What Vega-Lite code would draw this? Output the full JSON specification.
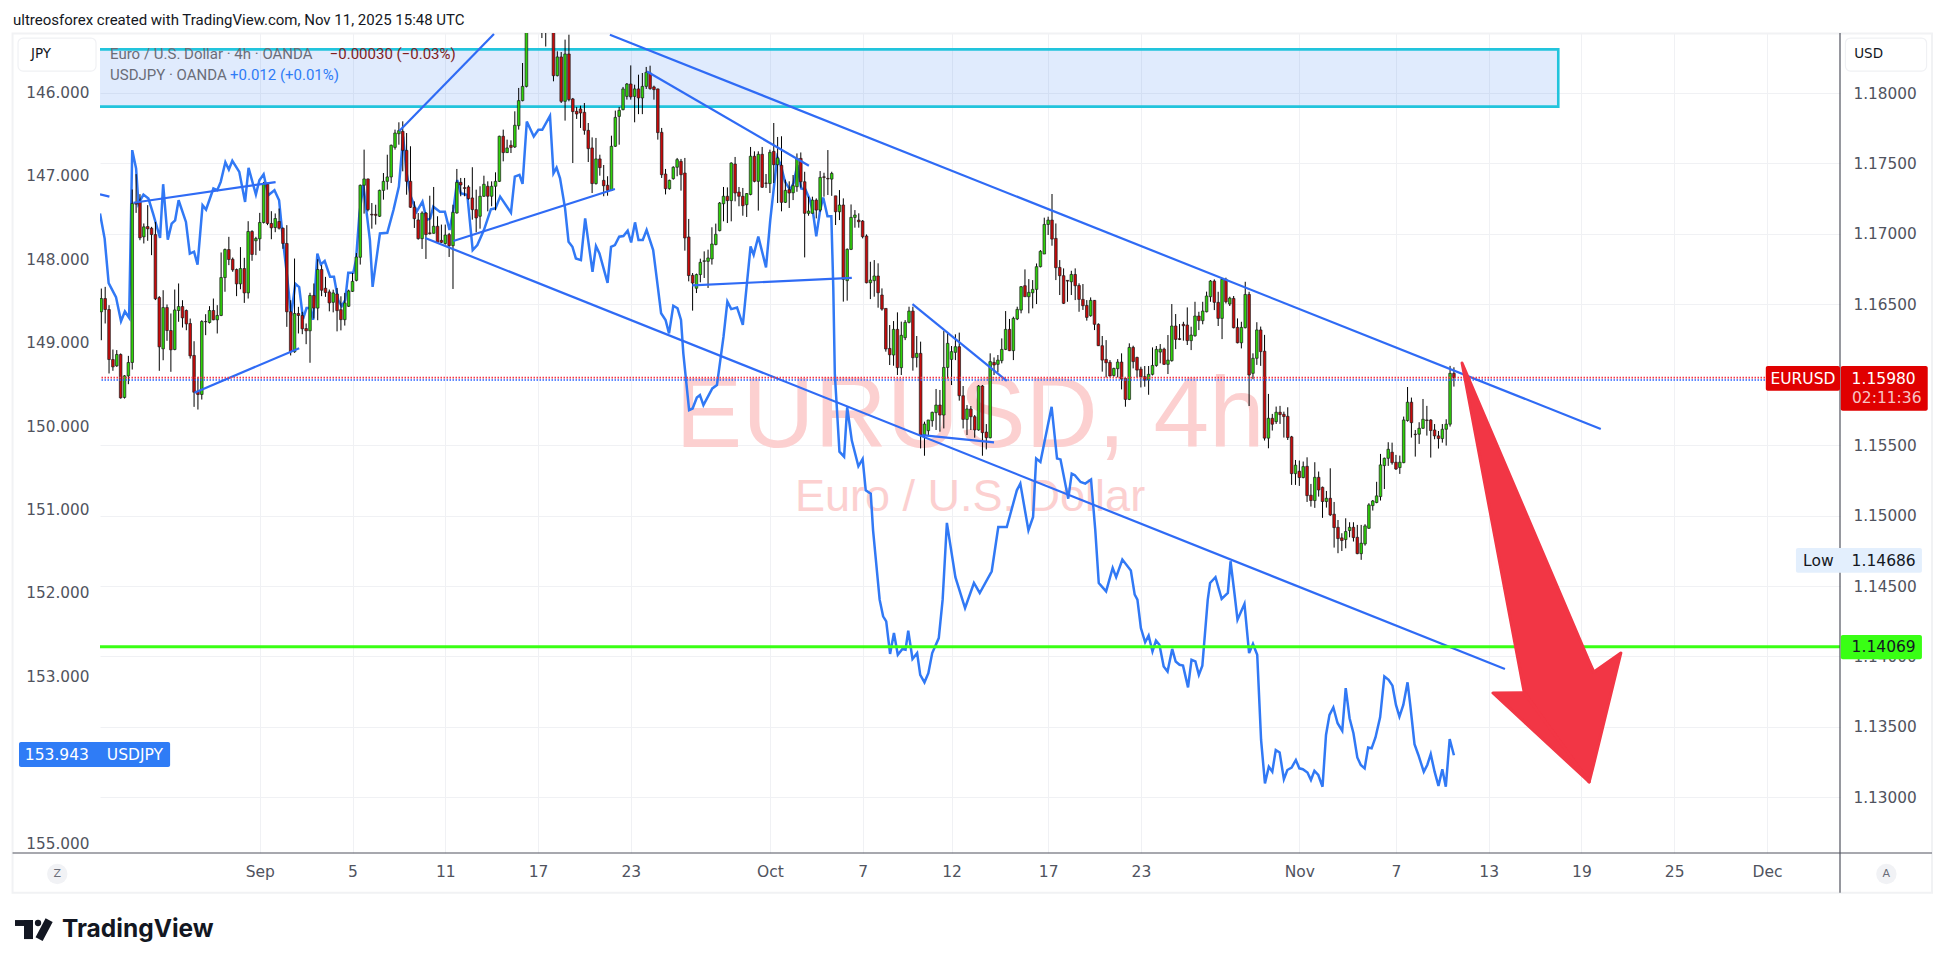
{
"$schema":"https://vega.github.io/schema/vega-lite/v6.json",
"width":1740,"height":820,"autosize":"none",
"padding":{"left":100,"top":33,"right":105,"bottom":115},
"background":"white",
"config":{"view":{"stroke":null},"axis":{"grid":false}},
"datasets":{
"candles":[
{"i":0,"o":1.16447,"h":1.16612,"l":1.16245,"c":1.16541},{"i":1,"o":1.16541,"h":1.16624,"l":1.16364,"c":1.16463},{"i":2,"o":1.16463,"h":1.16494,"l":1.16009,"c":1.16108},{"i":3,"o":1.16108,"h":1.16179,"l":1.16028,"c":1.16056},{"i":4,"o":1.16063,"h":1.16175,"l":1.16056,"c":1.16144},{"i":5,"o":1.16144,"h":1.16151,"l":1.15831,"c":1.15836},{"i":6,"o":1.15839,"h":1.15997,"l":1.15831,"c":1.15992},{"i":7,"o":1.15992,"h":1.16134,"l":1.15933,"c":1.16087},{"i":8,"o":1.16087,"h":1.17315,"l":1.16037,"c":1.17216},{"i":9,"o":1.1722,"h":1.17424,"l":1.17149,"c":1.17211},
{"i":10,"o":1.17227,"h":1.17282,"l":1.16955,"c":1.16972},{"i":11,"o":1.16979,"h":1.17074,"l":1.16932,"c":1.1705},{"i":12,"o":1.17052,"h":1.17204,"l":1.16951,"c":1.17036},{"i":13,"o":1.1704,"h":1.1705,"l":1.16849,"c":1.16995},{"i":14,"o":1.16995,"h":1.17085,"l":1.1653,"c":1.16539},{"i":15,"o":1.16548,"h":1.16558,"l":1.16028,"c":1.16198},{"i":16,"o":1.16184,"h":1.166,"l":1.16103,"c":1.16477},{"i":17,"o":1.16477,"h":1.16499,"l":1.16241,"c":1.16314},{"i":18,"o":1.16314,"h":1.16435,"l":1.16021,"c":1.16177},{"i":19,"o":1.16179,"h":1.16605,"l":1.16174,"c":1.1646},
{"i":20,"o":1.16456,"h":1.16648,"l":1.16376,"c":1.16484},{"i":21,"o":1.16484,"h":1.16529,"l":1.16335,"c":1.16404},{"i":22,"o":1.16456,"h":1.16463,"l":1.16316,"c":1.16361},{"i":23,"o":1.16364,"h":1.16399,"l":1.16115,"c":1.16134},{"i":24,"o":1.16137,"h":1.16238,"l":1.15772,"c":1.15876},{"i":25,"o":1.15883,"h":1.15985,"l":1.15753,"c":1.1586},{"i":26,"o":1.1586,"h":1.16387,"l":1.15824,"c":1.16378},{"i":27,"o":1.16378,"h":1.1643,"l":1.16281,"c":1.16376},{"i":28,"o":1.16371,"h":1.16487,"l":1.16364,"c":1.16456},{"i":29,"o":1.16456,"h":1.16541,"l":1.16387,"c":1.1639},
{"i":30,"o":1.1639,"h":1.16494,"l":1.16293,"c":1.16421},{"i":31,"o":1.16421,"h":1.16868,"l":1.16416,"c":1.1669},{"i":32,"o":1.1669,"h":1.16896,"l":1.16589,"c":1.16889},{"i":33,"o":1.16889,"h":1.16979,"l":1.16778,"c":1.16818},{"i":34,"o":1.1682,"h":1.16832,"l":1.16731,"c":1.16745},{"i":35,"o":1.16747,"h":1.16754,"l":1.16558,"c":1.16645},{"i":36,"o":1.16645,"h":1.16906,"l":1.16607,"c":1.16754},{"i":37,"o":1.16754,"h":1.1683,"l":1.1651,"c":1.16581},{"i":38,"o":1.16581,"h":1.1709,"l":1.16541,"c":1.17017},{"i":39,"o":1.17017,"h":1.17026,"l":1.16809,"c":1.16854},
{"i":40,"o":1.16951,"h":1.16979,"l":1.16849,"c":1.16967},{"i":41,"o":1.16965,"h":1.17149,"l":1.1688,"c":1.17081},{"i":42,"o":1.17081,"h":1.17369,"l":1.17074,"c":1.17353},{"i":43,"o":1.17353,"h":1.17362,"l":1.17062,"c":1.17074},{"i":44,"o":1.17074,"h":1.17161,"l":1.16962,"c":1.17043},{"i":45,"o":1.17045,"h":1.17145,"l":1.17012,"c":1.17109},{"i":46,"o":1.17088,"h":1.1718,"l":1.17031,"c":1.1704},{"i":47,"o":1.1704,"h":1.17045,"l":1.16894,"c":1.16932},{"i":48,"o":1.16932,"h":1.17062,"l":1.1634,"c":1.16447},{"i":49,"o":1.16447,"h":1.16529,"l":1.16137,"c":1.16163},
{"i":50,"o":1.16163,"h":1.16825,"l":1.16156,"c":1.16435},{"i":51,"o":1.16435,"h":1.16482,"l":1.16293,"c":1.16421},{"i":52,"o":1.16421,"h":1.16447,"l":1.16288,"c":1.16326},{"i":53,"o":1.16328,"h":1.16364,"l":1.16217,"c":1.16312},{"i":54,"o":1.16312,"h":1.16582,"l":1.16085,"c":1.16563},{"i":55,"o":1.16563,"h":1.16648,"l":1.16399,"c":1.16473},{"i":56,"o":1.16473,"h":1.1682,"l":1.16387,"c":1.16747},{"i":57,"o":1.16747,"h":1.16778,"l":1.16558,"c":1.166},{"i":58,"o":1.16614,"h":1.16695,"l":1.16553,"c":1.16584},{"i":59,"o":1.16588,"h":1.16605,"l":1.1645,"c":1.1651},
{"i":60,"o":1.16514,"h":1.16604,"l":1.16443,"c":1.16581},{"i":61,"o":1.16573,"h":1.16616,"l":1.16308,"c":1.16455},{"i":62,"o":1.16462,"h":1.16557,"l":1.16315,"c":1.16391},{"i":63,"o":1.16391,"h":1.16581,"l":1.16349,"c":1.1651},{"i":64,"o":1.16486,"h":1.16604,"l":1.16481,"c":1.16595},{"i":65,"o":1.16592,"h":1.16722,"l":1.16588,"c":1.16663},{"i":66,"o":1.1667,"h":1.16864,"l":1.16663,"c":1.16836},{"i":67,"o":1.16834,"h":1.1735,"l":1.16782,"c":1.17345},{"i":68,"o":1.17345,"h":1.17598,"l":1.17144,"c":1.1739},{"i":69,"o":1.1739,"h":1.17392,"l":1.1716,"c":1.17172},
{"i":70,"o":1.17139,"h":1.17219,"l":1.17037,"c":1.17134},{"i":71,"o":1.17139,"h":1.17207,"l":1.17066,"c":1.17132},{"i":72,"o":1.17125,"h":1.17314,"l":1.1712,"c":1.17309},{"i":73,"o":1.17309,"h":1.17432,"l":1.17243,"c":1.17373},{"i":74,"o":1.17373,"h":1.17562,"l":1.17314,"c":1.17404},{"i":75,"o":1.17404,"h":1.17634,"l":1.17361,"c":1.17629},{"i":76,"o":1.17614,"h":1.1774,"l":1.17598,"c":1.17716},{"i":77,"o":1.17711,"h":1.17792,"l":1.17633,"c":1.17733},{"i":78,"o":1.17728,"h":1.17799,"l":1.17444,"c":1.17593},{"i":79,"o":1.17593,"h":1.17716,"l":1.17278,"c":1.17373},
{"i":80,"o":1.17373,"h":1.17622,"l":1.17184,"c":1.17189},{"i":81,"o":1.17189,"h":1.17231,"l":1.17042,"c":1.17108},{"i":82,"o":1.17099,"h":1.17148,"l":1.16959,"c":1.16966},{"i":83,"o":1.16966,"h":1.1716,"l":1.16893,"c":1.17148},{"i":84,"o":1.17148,"h":1.17155,"l":1.16822,"c":1.16995},{"i":85,"o":1.17007,"h":1.17271,"l":1.16995,"c":1.17002},{"i":86,"o":1.17004,"h":1.17333,"l":1.17002,"c":1.17054},{"i":87,"o":1.17054,"h":1.17125,"l":1.16935,"c":1.1694},{"i":88,"o":1.16954,"h":1.17066,"l":1.16935,"c":1.1694},{"i":89,"o":1.16931,"h":1.17066,"l":1.16924,"c":1.16992},
{"i":90,"o":1.16995,"h":1.17007,"l":1.16836,"c":1.16916},{"i":91,"o":1.16916,"h":1.17207,"l":1.16609,"c":1.17153},{"i":92,"o":1.17148,"h":1.17461,"l":1.17144,"c":1.17366},{"i":93,"o":1.17366,"h":1.17397,"l":1.17267,"c":1.17347},{"i":94,"o":1.17328,"h":1.17397,"l":1.17267,"c":1.17323},{"i":95,"o":1.17333,"h":1.17345,"l":1.17243,"c":1.1725},{"i":96,"o":1.17255,"h":1.17473,"l":1.17101,"c":1.17172},{"i":97,"o":1.17172,"h":1.17314,"l":1.17011,"c":1.17113},{"i":98,"o":1.17125,"h":1.17338,"l":1.17037,"c":1.17267},{"i":99,"o":1.17267,"h":1.17413,"l":1.17262,"c":1.17352},
{"i":100,"o":1.17338,"h":1.17373,"l":1.1716,"c":1.17267},{"i":101,"o":1.17267,"h":1.17373,"l":1.17196,"c":1.17338},{"i":102,"o":1.17338,"h":1.17437,"l":1.17167,"c":1.17373},{"i":103,"o":1.17373,"h":1.17697,"l":1.17368,"c":1.17693},{"i":104,"o":1.17693,"h":1.1774,"l":1.17515,"c":1.17577},{"i":105,"o":1.17577,"h":1.17669,"l":1.17574,"c":1.1761},{"i":106,"o":1.17629,"h":1.17664,"l":1.17574,"c":1.17614},{"i":107,"o":1.17617,"h":1.1787,"l":1.1761,"c":1.17771},{"i":108,"o":1.17768,"h":1.18036,"l":1.1774,"c":1.17946},{"i":109,"o":1.17946,"h":1.18213,"l":1.17941,"c":1.18047},
{"i":110,"o":1.18047,"h":1.187,"l":1.1804,"c":1.186},{"i":111,"o":1.186,"h":1.188,"l":1.1852,"c":1.1875},{"i":112,"o":1.1875,"h":1.1895,"l":1.1862,"c":1.1882},{"i":113,"o":1.1882,"h":1.189,"l":1.1855,"c":1.1868},{"i":114,"o":1.1868,"h":1.188,"l":1.1839,"c":1.186},{"i":115,"o":1.186,"h":1.1875,"l":1.1833,"c":1.1852},{"i":116,"o":1.1852,"h":1.1872,"l":1.1846,"c":1.1862},{"i":117,"o":1.1862,"h":1.187,"l":1.18083,"c":1.18123},{"i":118,"o":1.18123,"h":1.18296,"l":1.18118,"c":1.18256},{"i":119,"o":1.18256,"h":1.18291,"l":1.17929,"c":1.17941},
{"i":120,"o":1.17941,"h":1.18379,"l":1.17804,"c":1.18277},{"i":121,"o":1.18277,"h":1.18414,"l":1.17941,"c":1.17953},{"i":122,"o":1.17958,"h":1.17965,"l":1.17503,"c":1.17868},{"i":123,"o":1.1787,"h":1.17901,"l":1.17816,"c":1.17851},{"i":124,"o":1.17887,"h":1.1791,"l":1.17752,"c":1.17858},{"i":125,"o":1.17863,"h":1.17929,"l":1.17704,"c":1.17735},{"i":126,"o":1.17735,"h":1.17787,"l":1.1751,"c":1.17605},{"i":127,"o":1.1761,"h":1.17685,"l":1.1729,"c":1.17357},{"i":128,"o":1.17357,"h":1.17681,"l":1.1735,"c":1.17532},{"i":129,"o":1.17532,"h":1.17562,"l":1.17413,"c":1.1747},
{"i":130,"o":1.1738,"h":1.17489,"l":1.17267,"c":1.17342},{"i":131,"o":1.17345,"h":1.17409,"l":1.17271,"c":1.17309},{"i":132,"o":1.17309,"h":1.17697,"l":1.17304,"c":1.17622},{"i":133,"o":1.17622,"h":1.17875,"l":1.17617,"c":1.17827},{"i":134,"o":1.17834,"h":1.17901,"l":1.17633,"c":1.17877},{"i":135,"o":1.17882,"h":1.18043,"l":1.17877,"c":1.18029},{"i":136,"o":1.17976,"h":1.18071,"l":1.17953,"c":1.18064},{"i":137,"o":1.18064,"h":1.18196,"l":1.17953,"c":1.17972},{"i":138,"o":1.17976,"h":1.18059,"l":1.17792,"c":1.18029},{"i":139,"o":1.18029,"h":1.1813,"l":1.1785,"c":1.17965},
{"i":140,"o":1.17965,"h":1.18142,"l":1.1785,"c":1.18047},{"i":141,"o":1.18047,"h":1.18185,"l":1.18029,"c":1.18147},{"i":142,"o":1.18142,"h":1.18194,"l":1.18024,"c":1.18031},{"i":143,"o":1.18043,"h":1.18052,"l":1.17953,"c":1.18024},{"i":144,"o":1.18029,"h":1.18031,"l":1.17669,"c":1.17719},{"i":145,"o":1.17721,"h":1.17752,"l":1.17397,"c":1.1742},{"i":146,"o":1.17425,"h":1.17461,"l":1.1728,"c":1.17321},{"i":147,"o":1.17321,"h":1.17385,"l":1.17314,"c":1.1738},{"i":148,"o":1.17392,"h":1.1748,"l":1.17385,"c":1.17473},{"i":149,"o":1.17473,"h":1.17539,"l":1.17409,"c":1.17527},
{"i":150,"o":1.17515,"h":1.17532,"l":1.17307,"c":1.1742},{"i":151,"o":1.17432,"h":1.17539,"l":1.16881,"c":1.16971},{"i":152,"o":1.16978,"h":1.17106,"l":1.16663,"c":1.16704},{"i":153,"o":1.16706,"h":1.16722,"l":1.16455,"c":1.16651},{"i":154,"o":1.16614,"h":1.16718,"l":1.1658,"c":1.16711},{"i":155,"o":1.16711,"h":1.16824,"l":1.16656,"c":1.16798},{"i":156,"o":1.16805,"h":1.16876,"l":1.16687,"c":1.16809},{"i":157,"o":1.16805,"h":1.16888,"l":1.16616,"c":1.16829},{"i":158,"o":1.16822,"h":1.17047,"l":1.16782,"c":1.16928},{"i":159,"o":1.16924,"h":1.17073,"l":1.16919,"c":1.16997},
{"i":160,"o":1.17023,"h":1.17226,"l":1.17018,"c":1.17219},{"i":161,"o":1.17214,"h":1.17333,"l":1.17089,"c":1.17267},{"i":162,"o":1.17267,"h":1.1733,"l":1.17077,"c":1.17236},{"i":163,"o":1.17236,"h":1.17508,"l":1.17089,"c":1.17503},{"i":164,"o":1.17496,"h":1.17546,"l":1.17231,"c":1.1729},{"i":165,"o":1.17297,"h":1.17333,"l":1.17196,"c":1.17267},{"i":166,"o":1.17267,"h":1.17326,"l":1.17129,"c":1.172},{"i":167,"o":1.17207,"h":1.1729,"l":1.1712,"c":1.17286},{"i":168,"o":1.1728,"h":1.17617,"l":1.17274,"c":1.17551},{"i":169,"o":1.17551,"h":1.17586,"l":1.17366,"c":1.17373},
{"i":170,"o":1.17373,"h":1.17586,"l":1.17165,"c":1.17565},{"i":171,"o":1.17565,"h":1.17617,"l":1.17326,"c":1.17331},{"i":172,"o":1.17361,"h":1.17425,"l":1.17326,"c":1.17359},{"i":173,"o":1.17357,"h":1.17598,"l":1.1729,"c":1.17579},{"i":174,"o":1.17586,"h":1.17787,"l":1.17361,"c":1.17491},{"i":175,"o":1.17491,"h":1.17688,"l":1.17219,"c":1.17539},{"i":176,"o":1.17487,"h":1.17693,"l":1.1716,"c":1.17224},{"i":177,"o":1.17224,"h":1.17385,"l":1.17219,"c":1.17309},{"i":178,"o":1.17314,"h":1.17373,"l":1.17184,"c":1.1729},{"i":179,"o":1.17292,"h":1.17418,"l":1.1724,"c":1.17342},
{"i":180,"o":1.17335,"h":1.17571,"l":1.17299,"c":1.17536},{"i":181,"o":1.17536,"h":1.17578,"l":1.17328,"c":1.1737},{"i":182,"o":1.1737,"h":1.17441,"l":1.16833,"c":1.17146},{"i":183,"o":1.17146,"h":1.17264,"l":1.17129,"c":1.17162},{"i":184,"o":1.17146,"h":1.17264,"l":1.17146,"c":1.1724},{"i":185,"o":1.1724,"h":1.17252,"l":1.1711,"c":1.17169},{"i":186,"o":1.17169,"h":1.17446,"l":1.17157,"c":1.17401},{"i":187,"o":1.17405,"h":1.17434,"l":1.17264,"c":1.17401},{"i":188,"o":1.17394,"h":1.17595,"l":1.17276,"c":1.1739},{"i":189,"o":1.17389,"h":1.17441,"l":1.1727,"c":1.17429},
{"i":190,"o":1.1727,"h":1.1727,"l":1.17063,"c":1.17157},{"i":191,"o":1.17157,"h":1.17311,"l":1.17098,"c":1.17205},{"i":192,"o":1.17205,"h":1.17252,"l":1.16519,"c":1.16677},{"i":193,"o":1.16668,"h":1.16897,"l":1.16526,"c":1.1689},{"i":194,"o":1.1689,"h":1.17209,"l":1.16885,"c":1.17117},{"i":195,"o":1.17117,"h":1.17169,"l":1.17044,"c":1.17134},{"i":196,"o":1.17098,"h":1.17146,"l":1.17044,"c":1.17086},{"i":197,"o":1.17091,"h":1.17098,"l":1.16968,"c":1.1698},{"i":198,"o":1.16985,"h":1.16996,"l":1.16649,"c":1.16653},{"i":199,"o":1.16653,"h":1.16802,"l":1.16537,"c":1.16672},
{"i":200,"o":1.16668,"h":1.16814,"l":1.16554,"c":1.16701},{"i":201,"o":1.16701,"h":1.16791,"l":1.16476,"c":1.16582},{"i":202,"o":1.16566,"h":1.16613,"l":1.16455,"c":1.16466},{"i":203,"o":1.16471,"h":1.16471,"l":1.16164,"c":1.16183},{"i":204,"o":1.16187,"h":1.16353,"l":1.16069,"c":1.16142},{"i":205,"o":1.1614,"h":1.16381,"l":1.16064,"c":1.16322},{"i":206,"o":1.16322,"h":1.16443,"l":1.15998,"c":1.1605},{"i":207,"o":1.1605,"h":1.16377,"l":1.15998,"c":1.1628},{"i":208,"o":1.16263,"h":1.16388,"l":1.16246,"c":1.16372},{"i":209,"o":1.16372,"h":1.16483,"l":1.16365,"c":1.16452},
{"i":210,"o":1.16452,"h":1.16483,"l":1.16029,"c":1.16121},{"i":211,"o":1.16123,"h":1.16275,"l":1.16052,"c":1.16152},{"i":212,"o":1.16152,"h":1.16235,"l":1.15477,"c":1.15572},{"i":213,"o":1.15572,"h":1.15667,"l":1.15425,"c":1.1565},{"i":214,"o":1.15603,"h":1.15679,"l":1.15572,"c":1.15679},{"i":215,"o":1.15674,"h":1.15738,"l":1.15631,"c":1.15733},{"i":216,"o":1.15731,"h":1.15899,"l":1.15608,"c":1.15785},{"i":217,"o":1.15785,"h":1.15892,"l":1.15596,"c":1.15714},{"i":218,"o":1.15714,"h":1.1631,"l":1.15619,"c":1.16052},{"i":219,"o":1.16052,"h":1.16294,"l":1.15974,"c":1.16223},
{"i":220,"o":1.16109,"h":1.16204,"l":1.15927,"c":1.16164},{"i":221,"o":1.16159,"h":1.16287,"l":1.16104,"c":1.16199},{"i":222,"o":1.16199,"h":1.16299,"l":1.15816,"c":1.15851},{"i":223,"o":1.15851,"h":1.1592,"l":1.15619,"c":1.15683},{"i":224,"o":1.15683,"h":1.15785,"l":1.15572,"c":1.15757},{"i":225,"o":1.15757,"h":1.15778,"l":1.15608,"c":1.15702},{"i":226,"o":1.15702,"h":1.15714,"l":1.15553,"c":1.15608},{"i":227,"o":1.15608,"h":1.15927,"l":1.15603,"c":1.1592},{"i":228,"o":1.1592,"h":1.15927,"l":1.15425,"c":1.15589},{"i":229,"o":1.15593,"h":1.1565,"l":1.1547,"c":1.15553},
{"i":230,"o":1.15553,"h":1.16152,"l":1.15548,"c":1.16093},{"i":231,"o":1.16088,"h":1.16123,"l":1.15998,"c":1.16069},{"i":232,"o":1.16074,"h":1.1614,"l":1.16017,"c":1.16104},{"i":233,"o":1.161,"h":1.16258,"l":1.16081,"c":1.1618},{"i":234,"o":1.1618,"h":1.16452,"l":1.16175,"c":1.16322},{"i":235,"o":1.16322,"h":1.16396,"l":1.16168,"c":1.16171},{"i":236,"o":1.16171,"h":1.16412,"l":1.16104,"c":1.164},{"i":237,"o":1.16396,"h":1.16483,"l":1.16388,"c":1.16464},{"i":238,"o":1.16459,"h":1.1663,"l":1.16436,"c":1.16625},{"i":239,"o":1.16632,"h":1.16748,"l":1.16554,"c":1.16554},
{"i":240,"o":1.16554,"h":1.16679,"l":1.16436,"c":1.16585},{"i":241,"o":1.16582,"h":1.16672,"l":1.16471,"c":1.16606},{"i":242,"o":1.16606,"h":1.1679,"l":1.16502,"c":1.16767},{"i":243,"o":1.16767,"h":1.16885,"l":1.16762,"c":1.16876},{"i":244,"o":1.16857,"h":1.17115,"l":1.16857,"c":1.17067},{"i":245,"o":1.17067,"h":1.17122,"l":1.16992,"c":1.17098},{"i":246,"o":1.17098,"h":1.17283,"l":1.16916,"c":1.16963},{"i":247,"o":1.16968,"h":1.17074,"l":1.16672,"c":1.1676},{"i":248,"o":1.16762,"h":1.16814,"l":1.16566,"c":1.16703},{"i":249,"o":1.16703,"h":1.16755,"l":1.16502,"c":1.16507},
{"i":250,"o":1.1667,"h":1.16672,"l":1.16518,"c":1.16665},{"i":251,"o":1.1666,"h":1.16738,"l":1.16566,"c":1.16712},{"i":252,"o":1.16712,"h":1.16755,"l":1.1653,"c":1.16632},{"i":253,"o":1.16634,"h":1.16649,"l":1.16447,"c":1.16535},{"i":254,"o":1.16535,"h":1.16644,"l":1.1646,"c":1.1649},{"i":255,"o":1.16492,"h":1.1653,"l":1.16384,"c":1.16407},{"i":256,"o":1.16419,"h":1.16549,"l":1.16412,"c":1.16528},{"i":257,"o":1.16528,"h":1.1653,"l":1.16317,"c":1.16358},{"i":258,"o":1.16358,"h":1.16365,"l":1.16204,"c":1.16206},{"i":259,"o":1.16206,"h":1.16275,"l":1.16022,"c":1.16104},
{"i":260,"o":1.16109,"h":1.16246,"l":1.15981,"c":1.16085},{"i":261,"o":1.16088,"h":1.16104,"l":1.15986,"c":1.15991},{"i":262,"o":1.15995,"h":1.1605,"l":1.15986,"c":1.16045},{"i":263,"o":1.16043,"h":1.16111,"l":1.15981,"c":1.1609},{"i":264,"o":1.1609,"h":1.16152,"l":1.15896,"c":1.15969},{"i":265,"o":1.15974,"h":1.15979,"l":1.15773,"c":1.15825},{"i":266,"o":1.15825,"h":1.16223,"l":1.1582,"c":1.16194},{"i":267,"o":1.16194,"h":1.16206,"l":1.16045,"c":1.16093},{"i":268,"o":1.16123,"h":1.16128,"l":1.15981,"c":1.16033},{"i":269,"o":1.1604,"h":1.16057,"l":1.1591,"c":1.15986},
{"i":270,"o":1.15986,"h":1.16062,"l":1.15915,"c":1.15962},{"i":271,"o":1.15962,"h":1.16062,"l":1.15858,"c":1.16003},{"i":272,"o":1.16003,"h":1.16194,"l":1.15995,"c":1.16066},{"i":273,"o":1.16066,"h":1.16204,"l":1.16057,"c":1.1618},{"i":274,"o":1.16161,"h":1.16218,"l":1.16081,"c":1.16182},{"i":275,"o":1.16182,"h":1.16192,"l":1.16069,"c":1.16074},{"i":276,"o":1.16074,"h":1.16282,"l":1.16005,"c":1.16104},{"i":277,"o":1.161,"h":1.16502,"l":1.16093,"c":1.16346},{"i":278,"o":1.16346,"h":1.16431,"l":1.16182,"c":1.16251},{"i":279,"o":1.16256,"h":1.1636,"l":1.16246,"c":1.16251},
{"i":280,"o":1.16358,"h":1.16376,"l":1.16242,"c":1.16348},{"i":281,"o":1.16353,"h":1.16478,"l":1.16211,"c":1.16242},{"i":282,"o":1.16242,"h":1.16341,"l":1.16175,"c":1.16282},{"i":283,"o":1.16277,"h":1.16518,"l":1.1627,"c":1.16417},{"i":284,"o":1.16417,"h":1.16447,"l":1.16317,"c":1.16384},{"i":285,"o":1.16384,"h":1.16518,"l":1.16358,"c":1.16452},{"i":286,"o":1.16447,"h":1.1659,"l":1.16443,"c":1.16559},{"i":287,"o":1.16554,"h":1.16672,"l":1.16518,"c":1.16665},{"i":288,"o":1.16665,"h":1.16677,"l":1.16459,"c":1.16514},{"i":289,"o":1.16514,"h":1.16589,"l":1.16346,"c":1.164},
{"i":290,"o":1.164,"h":1.16684,"l":1.16253,"c":1.16677},{"i":291,"o":1.16677,"h":1.16689,"l":1.16506,"c":1.16518},{"i":292,"o":1.16502,"h":1.16554,"l":1.16488,"c":1.16544},{"i":293,"o":1.16542,"h":1.16559,"l":1.16329,"c":1.16334},{"i":294,"o":1.16336,"h":1.164,"l":1.16223,"c":1.16227},{"i":295,"o":1.16227,"h":1.16376,"l":1.16187,"c":1.16336},{"i":296,"o":1.16334,"h":1.1666,"l":1.16329,"c":1.1657},{"i":297,"o":1.1657,"h":1.16589,"l":1.15778,"c":1.15998},{"i":298,"o":1.1601,"h":1.16152,"l":1.15968,"c":1.16117},{"i":299,"o":1.16117,"h":1.16373,"l":1.1607,"c":1.16318},
{"i":300,"o":1.16318,"h":1.16342,"l":1.16063,"c":1.16164},{"i":301,"o":1.16167,"h":1.16283,"l":1.15533,"c":1.1555},{"i":302,"o":1.1555,"h":1.15864,"l":1.15478,"c":1.15691},{"i":303,"o":1.15691,"h":1.15722,"l":1.15604,"c":1.15649},{"i":304,"o":1.15667,"h":1.15774,"l":1.15651,"c":1.15734},{"i":305,"o":1.15734,"h":1.15779,"l":1.15651,"c":1.15717},{"i":306,"o":1.15719,"h":1.15738,"l":1.15554,"c":1.15703},{"i":307,"o":1.15705,"h":1.15769,"l":1.15537,"c":1.15554},{"i":308,"o":1.15559,"h":1.15566,"l":1.15218,"c":1.15298},{"i":309,"o":1.15298,"h":1.15395,"l":1.15218,"c":1.15358},
{"i":310,"o":1.15315,"h":1.15391,"l":1.15211,"c":1.1527},{"i":311,"o":1.1527,"h":1.15384,"l":1.15265,"c":1.15348},{"i":312,"o":1.1535,"h":1.15414,"l":1.15097,"c":1.15142},{"i":313,"o":1.15145,"h":1.15225,"l":1.15064,"c":1.15107},{"i":314,"o":1.15107,"h":1.15379,"l":1.15055,"c":1.15272},{"i":315,"o":1.15272,"h":1.15313,"l":1.15135,"c":1.15182},{"i":316,"o":1.15201,"h":1.15206,"l":1.14984,"c":1.151},{"i":317,"o":1.151,"h":1.15175,"l":1.15057,"c":1.15123},{"i":318,"o":1.15123,"h":1.15336,"l":1.14998,"c":1.15005},{"i":319,"o":1.1501,"h":1.15097,"l":1.14773,"c":1.14915},
{"i":320,"o":1.14917,"h":1.14969,"l":1.14733,"c":1.14837},{"i":321,"o":1.14842,"h":1.14875,"l":1.14749,"c":1.14823},{"i":322,"o":1.1483,"h":1.14981,"l":1.14768,"c":1.14887},{"i":323,"o":1.14894,"h":1.14953,"l":1.14846,"c":1.14917},{"i":324,"o":1.14917,"h":1.14953,"l":1.14816,"c":1.14844},{"i":325,"o":1.14846,"h":1.14934,"l":1.14726,"c":1.1473},{"i":326,"o":1.1473,"h":1.14934,"l":1.14686,"c":1.14804},{"i":327,"o":1.14799,"h":1.14939,"l":1.14787,"c":1.14927},{"i":328,"o":1.1491,"h":1.15088,"l":1.14906,"c":1.15076},{"i":329,"o":1.15071,"h":1.15111,"l":1.15036,"c":1.15104},
{"i":330,"o":1.15093,"h":1.1524,"l":1.15088,"c":1.1514},{"i":331,"o":1.15135,"h":1.15438,"l":1.15107,"c":1.1536},{"i":332,"o":1.15355,"h":1.15412,"l":1.15189,"c":1.15407},{"i":333,"o":1.15407,"h":1.15521,"l":1.15353,"c":1.15471},{"i":334,"o":1.1545,"h":1.15518,"l":1.15362,"c":1.15376},{"i":335,"o":1.15379,"h":1.15431,"l":1.15324,"c":1.15331},{"i":336,"o":1.15341,"h":1.15426,"l":1.15296,"c":1.15379},{"i":337,"o":1.15376,"h":1.15703,"l":1.15372,"c":1.15679},{"i":338,"o":1.15675,"h":1.15913,"l":1.15667,"c":1.15805},{"i":339,"o":1.15805,"h":1.15838,"l":1.15554,"c":1.1566},
{"i":340,"o":1.15578,"h":1.15608,"l":1.15419,"c":1.15575},{"i":341,"o":1.15578,"h":1.15663,"l":1.15509,"c":1.1562},{"i":342,"o":1.1562,"h":1.15828,"l":1.15615,"c":1.15684},{"i":343,"o":1.15679,"h":1.15779,"l":1.15568,"c":1.15675},{"i":344,"o":1.15679,"h":1.15684,"l":1.15412,"c":1.15604},{"i":345,"o":1.15608,"h":1.1565,"l":1.15542,"c":1.15566},{"i":346,"o":1.15566,"h":1.15601,"l":1.15476,"c":1.15547},{"i":347,"o":1.15547,"h":1.1565,"l":1.15518,"c":1.15613},{"i":348,"o":1.15613,"h":1.15684,"l":1.15497,"c":1.15649},{"i":349,"o":1.15649,"h":1.16063,"l":1.15632,"c":1.1601},
{"i":350,"o":1.1601,"h":1.16053,"l":1.15916,"c":1.1598}
],
"usdjpy":[
{"i":-0.34,"v":147.456},{"i":0.86,"v":147.756},{"i":1.9,"v":148.288},{"i":3.8,"v":148.456},{"i":5.1,"v":148.744},{"i":6.1,"v":148.628},{"i":7.2,"v":148.704},{"i":8,"v":146.696},{"i":9,"v":146.916},{"i":9.6,"v":147.336},{"i":10.9,"v":147.228},{"i":12.2,"v":147.276},{"i":13.4,"v":147.456},{"i":15.2,"v":147.748},{"i":16,"v":147.104},{"i":17.2,"v":147.768},{"i":18.2,"v":147.576},{"i":19.1,"v":147.536},{"i":20,"v":147.296},{"i":21.9,"v":147.556},{"i":22.9,"v":147.936},{"i":24,"v":147.912},{"i":24.9,"v":148.068},{"i":26.2,"v":147.356},{"i":27.1,"v":147.408},{"i":29,"v":147.156},{"i":30,"v":147.176},{"i":30.9,"v":147.076},{"i":32.1,"v":146.84},{"i":33,"v":146.928},{"i":33.9,"v":146.824},{"i":35.7,"v":146.956},{"i":37.2,"v":147.316},{"i":38.1,"v":146.908},{"i":40,"v":147.228},{"i":40.9,"v":147.056},{"i":42,"v":146.984},{"i":43.2,"v":147.236},{"i":44.8,"v":147.176},{"i":46,"v":147.296},{"i":47.1,"v":147.816},{"i":48.1,"v":148.216},{"i":49.1,"v":148.676},{"i":50.2,"v":148.296},{"i":51.2,"v":148.336},{"i":52.2,"v":148.716},{"i":53.1,"v":148.588},{"i":54,"v":148.588},{"i":54.8,"v":148.728},{"i":55.9,"v":147.936},{"i":56.8,"v":148.064},{"i":57.8,"v":148.024},{"i":59.2,"v":148.213},{"i":60.2,"v":148.213},{"i":61.3,"v":148.493},{"i":62.2,"v":148.565},{"i":63.1,"v":148.493},{"i":63.9,"v":148.165},{"i":65.2,"v":148.165},{"i":65.9,"v":148.013},{"i":66.8,"v":147.453},{"i":67.8,"v":147.113},{"i":69.5,"v":147.773},{"i":70.2,"v":148.333},{"i":72.1,"v":147.693},{"i":74,"v":147.685},{"i":75.6,"v":147.413},{"i":77,"v":147.133},{"i":78.1,"v":146.533},{"i":79,"v":146.973},{"i":80.1,"v":147.253},{"i":81.6,"v":147.433},{"i":83.1,"v":147.313},{"i":84.2,"v":147.533},{"i":85.1,"v":147.513},{"i":85.9,"v":147.373},{"i":87.6,"v":147.433},{"i":88.9,"v":147.433},{"i":90.1,"v":147.653},{"i":91.1,"v":147.413},{"i":92.1,"v":147.053},{"i":93,"v":147.213},{"i":94.7,"v":147.233},{"i":96.1,"v":147.893},{"i":97.3,"v":147.833},{"i":99,"v":147.653},{"i":100.8,"v":147.405},{"i":102,"v":147.393},{"i":103.2,"v":147.253},{"i":106,"v":147.445},{"i":107,"v":147.013},{"i":108.2,"v":146.993},{"i":109,"v":147.101},{"i":110.1,"v":146.353},{"i":111.9,"v":146.533},{"i":113.1,"v":146.453},{"i":114.1,"v":146.453},{"i":116.1,"v":146.285},{"i":117,"v":146.973},{"i":117.8,"v":146.905},{"i":118.7,"v":147.033},{"i":120,"v":147.393},{"i":120.9,"v":147.793},{"i":121.9,"v":147.853},{"i":122.8,"v":147.993},{"i":124.1,"v":148.013},{"i":125.2,"v":147.513},{"i":127.1,"v":148.153},{"i":128,"v":147.845},{"i":128.9,"v":147.933},{"i":131,"v":148.285},{"i":131.9,"v":147.853},{"i":132.9,"v":147.833},{"i":134,"v":147.733},{"i":135.1,"v":147.725},{"i":136.2,"v":147.661},{"i":137.1,"v":147.801},{"i":138.1,"v":147.561},{"i":139,"v":147.773},{"i":140.1,"v":147.773},{"i":141.1,"v":147.653},{"i":142.8,"v":147.893},{"i":144,"v":148.333},{"i":144.85,"v":148.65},{"i":146,"v":148.73},{"i":146.9,"v":148.89},{"i":148,"v":148.56},{"i":149.1,"v":148.59},{"i":150,"v":148.73},{"i":150.6,"v":149.13},{"i":152.1,"v":149.81},{"i":153,"v":149.79},{"i":154.1,"v":149.66},{"i":154.9,"v":149.63},{"i":155.8,"v":149.75},{"i":158.1,"v":149.55},{"i":159.3,"v":149.51},{"i":161,"v":148.93},{"i":162,"v":148.51},{"i":163,"v":148.6},{"i":164.5,"v":148.58},{"i":166,"v":148.79},{"i":168,"v":147.85},{"i":168.8,"v":147.95},{"i":170,"v":147.73},{"i":172,"v":148.1},{"i":173.1,"v":147.53},{"i":174.9,"v":146.78},{"i":175.8,"v":146.873},{"i":176.9,"v":147.073},{"i":178.2,"v":147.171},{"i":179.1,"v":147.095},{"i":180.1,"v":146.875},{"i":181.1,"v":147.155},{"i":182.2,"v":147.167},{"i":183.4,"v":147.295},{"i":184.2,"v":147.455},{"i":185,"v":147.727},{"i":186,"v":147.415},{"i":186.8,"v":147.263},{"i":187.9,"v":147.487},{"i":188.9,"v":147.487},{"i":189.4,"v":148.335},{"i":189.8,"v":149.375},{"i":191,"v":150.307},{"i":192.2,"v":150.367},{"i":193,"v":149.775},{"i":194.2,"v":150.175},{"i":195.9,"v":150.483},{"i":197,"v":150.395},{"i":197.8,"v":150.77},{"i":199.1,"v":150.81},{"i":199.7,"v":151.25},{"i":201.4,"v":152.08},{"i":202.3,"v":152.28},{"i":203.1,"v":152.34},{"i":204.1,"v":152.73},{"i":205.1,"v":152.48},{"i":206.1,"v":152.74},{"i":207.3,"v":152.67},{"i":208.1,"v":152.68},{"i":208.8,"v":152.45},{"i":209.9,"v":152.79},{"i":211.1,"v":152.72},{"i":211.9,"v":152.98},{"i":213,"v":153.07},{"i":214,"v":152.96},{"i":215,"v":152.72},{"i":216.7,"v":152.54},{"i":217.7,"v":152.08},{"i":218.8,"v":151.16},{"i":221,"v":151.81},{"i":223.5,"v":152.18},{"i":225.8,"v":151.88},{"i":227.3,"v":152},{"i":230.4,"v":151.74},{"i":232.1,"v":151.21},{"i":234.3,"v":151.21},{"i":236.9,"v":150.77},{"i":237.8,"v":150.69},{"i":239.9,"v":151.25},{"i":241.1,"v":151.09},{"i":241.9,"v":150.39},{"i":243,"v":150.43},{"i":245.9,"v":149.77},{"i":247.3,"v":150.39},{"i":248.2,"v":150.4},{"i":250.2,"v":150.87},{"i":251.1,"v":150.57},{"i":251.9,"v":150.59},{"i":253.4,"v":150.67},{"i":254.6,"v":150.69},{"i":256.1,"v":150.64},{"i":257.2,"v":151.25},{"i":258.1,"v":151.88},{"i":260,"v":151.98},{"i":261.7,"v":151.7},{"i":262.6,"v":151.81},{"i":264.2,"v":151.6},{"i":266.4,"v":151.73},{"i":267.4,"v":152.02},{"i":268.1,"v":152.08},{"i":269,"v":152.42},{"i":270.1,"v":152.59},{"i":271,"v":152.51},{"i":272,"v":152.7},{"i":272.9,"v":152.57},{"i":273.8,"v":152.62},{"i":274.9,"v":152.88},{"i":275.9,"v":152.94},{"i":277.1,"v":152.67},{"i":278,"v":152.82},{"i":279,"v":152.86},{"i":279.9,"v":152.87},{"i":281.2,"v":153.13},{"i":282.1,"v":152.8},{"i":283.1,"v":152.82},{"i":284,"v":152.98},{"i":284.9,"v":152.87},{"i":286.3,"v":152.08},{"i":286.9,"v":151.88},{"i":288.3,"v":151.81},{"i":289.9,"v":152.07},{"i":291.5,"v":152},{"i":292.2,"v":151.62},{"i":293.2,"v":152},{"i":294,"v":152.32},{"i":295.8,"v":152.13},{"i":297,"v":152.72},{"i":298,"v":152.61},{"i":299.1,"v":152.74},{"i":300.1,"v":153.76},{"i":301.1,"v":154.28},{"i":302.1,"v":154.08},{"i":303,"v":154.14},{"i":303.9,"v":153.88},{"i":304.9,"v":153.91},{"i":306,"v":154.23},{"i":306.9,"v":154.12},{"i":308,"v":154.09},{"i":309.1,"v":154},{"i":310,"v":154.1},{"i":310.9,"v":154.11},{"i":312.1,"v":154.15},{"i":313,"v":154.24},{"i":313.9,"v":154.13},{"i":314.9,"v":154.18},{"i":316,"v":154.32},{"i":316.9,"v":153.7},{"i":317.8,"v":153.46},{"i":318.8,"v":153.37},{"i":319.9,"v":153.56},{"i":321.1,"v":153.65},{"i":322,"v":153.14},{"i":323,"v":153.5},{"i":324,"v":153.68},{"i":325,"v":153.97},{"i":325.9,"v":154.06},{"i":326.9,"v":154.1},{"i":327.8,"v":153.85},{"i":328.7,"v":153.86},{"i":329.7,"v":153.73},{"i":330.9,"v":153.49},{"i":332,"v":153},{"i":333.1,"v":153.04},{"i":334.1,"v":153.11},{"i":335,"v":153.34},{"i":335.9,"v":153.48},{"i":336.9,"v":153.34},{"i":338,"v":153.07},{"i":338.7,"v":153.34},{"i":339.8,"v":153.81},{"i":340.8,"v":153.94},{"i":342.2,"v":154.14},{"i":343.1,"v":154.06},{"i":344,"v":153.93},{"i":345,"v":154.14},{"i":346,"v":154.31},{"i":347,"v":154.11},{"i":347.9,"v":154.32},{"i":348.9,"v":153.75},{"i":350,"v":153.943}
],
"trend":[
{"id":"L1","i":131.6,"p":1.18414},{"id":"L1","i":388,"p":1.15615},
{"id":"L2","i":83.8,"p":1.16971},{"id":"L2","i":363.2,"p":1.13911},
{"id":"L3","i":77.1,"p":1.1773},{"id":"L3","i":101.6,"p":1.18419},
{"id":"L4","i":8.3,"p":1.17221},{"id":"L4","i":45.1,"p":1.17368},
{"id":"L5","i":24.1,"p":1.15873},{"id":"L5","i":51.2,"p":1.16188},
{"id":"L6","i":91.1,"p":1.16949},{"id":"L6","i":132.9,"p":1.17319},
{"id":"L7","i":-0.34,"p":1.17281},{"id":"L7","i":2.1,"p":1.17264},
{"id":"L8","i":141.2,"p":1.18153},{"id":"L8","i":183.1,"p":1.17484},
{"id":"L9","i":152.9,"p":1.16635},{"id":"L9","i":194.2,"p":1.16687},
{"id":"L10","i":209.9,"p":1.16502},{"id":"L10","i":234.3,"p":1.15956},
{"id":"L11","i":212.3,"p":1.15572},{"id":"L11","i":231,"p":1.1552}
],
"arrow":[
{"part":"a","i":352.1,"top":1.16083,"bot":1.16083},{"part":"a","i":368.2,"top":1.15047,"bot":1.13743},{"part":"a","i":385,"top":1.13964,"bot":1.13109},{"part":"a","i":386.2,"top":1.1389,"bot":1.1324},{"part":"a","i":393.2,"top":1.14025,"bot":1.14025},
{"part":"b","i":360.1,"top":1.13741,"bot":1.13741},{"part":"b","i":368.2,"top":1.13743,"bot":1.13535},{"part":"b","i":385,"top":1.13109,"bot":1.13109}
],
"tags":[
{"k":"red","i0":430.7,"i1":449.9,"p0":1.16062,"p1":1.15887},
{"k":"red","i0":450.1,"i1":472.6,"p0":1.16062,"p1":1.15745},
{"k":"low","i0":438.5,"i1":471.1,"p0":1.1477,"p1":1.14595},
{"k":"green","i0":450.1,"i1":471.1,"p0":1.14152,"p1":1.1398},
{"k":"blue","i0":-21.3,"i1":17.8,"p0":1.13393,"p1":1.13215}
],
"leftText":[
{"i":-22.85,"p":1.18518,"t":"ultreosforex created with TradingView.com, Nov 11, 2025 15:48 UTC","k":"dark"},
{"i":2.25,"p":1.18277,"t":"Euro / U.S. Dollar · 4h · OANDA","k":"grey"},
{"i":59.1,"p":1.18277,"t":"−0.00030 (−0.03%)","k":"down"},
{"i":2.25,"p":1.18128,"t":"USDJPY · OANDA","k":"grey"},
{"i":33.3,"p":1.18128,"t":"+0.012 (+0.01%)","k":"up"}
],
"midText":[
{"i":440.3,"p":1.15973,"t":"EURUSD","k":"white"},
{"i":461.2,"p":1.15973,"t":"1.15980","k":"white"},
{"i":462,"p":1.15835,"t":"02:11:36","k":"pink"},
{"i":444.3,"p":1.14678,"t":"Low","k":"dark"},
{"i":461.2,"p":1.14678,"t":"1.14686","k":"dark"},
{"i":461.2,"p":1.14067,"t":"1.14069","k":"dark"},
{"i":-11.5,"p":1.13301,"t":"153.943","k":"white"},
{"i":8.7,"p":1.13301,"t":"USDJPY","k":"white"}
]
},
"layer":[
{"layer":[
{"data":{"values":[{"i0":-22.97,"i1":473.7,"p0":1.18422,"p1":1.12323}]},
"mark":{"type":"rect","fillOpacity":0,"stroke":"#f1f2f4","strokeWidth":2},
"encoding":{
"x":{"field":"i0","type":"quantitative","scale":{"domain":[-0.34,449.9],"nice":false,"zero":false,"padding":0}},
"x2":{"field":"i1"},
"y":{"field":"p0","type":"quantitative","scale":{"domain":[1.12605,1.18426],"nice":false,"zero":false},"axis":null},
"y2":{"field":"p1"}}},
{"data":{"values":[{"i":224.8,"p":1.15487,"t":"EURUSD, 4h"}]},
"mark":{"type":"text","font":"Liberation Sans","fontSize":100,"color":"#fcd0d0","align":"center","baseline":"alphabetic"},
"encoding":{"x":{"field":"i","type":"quantitative"},"y":{"field":"p","type":"quantitative","axis":null},"text":{"field":"t"}}},
{"data":{"values":[{"i":224.8,"p":1.15033,"t":"Euro / U.S. Dollar"}]},
"mark":{"type":"text","font":"Liberation Sans","fontSize":45,"color":"#fcd0d0","align":"center","baseline":"alphabetic"},
"encoding":{"x":{"field":"i","type":"quantitative"},"y":{"field":"p","type":"quantitative","axis":null},"text":{"field":"t"}}},
{"data":{"values":[{"i0":-2,"i1":377,"p0":1.1831,"p1":1.17903}]},
"mark":{"type":"rect","clip":true,"fill":"#2f7cf0","fillOpacity":0.15,"stroke":"#22c4dc","strokeWidth":2.6},
"encoding":{"x":{"field":"i0","type":"quantitative"},"x2":{"field":"i1"},"y":{"field":"p0","type":"quantitative","axis":null},"y2":{"field":"p1"}}}
]},
{"data":{"name":"usdjpy"},
"mark":{"type":"line","color":"#3179f5","strokeWidth":2.5,"clip":true},
"encoding":{
"x":{"field":"i","type":"quantitative"},
"y":{"field":"v","type":"quantitative","scale":{"domain":[155.114,145.293],"nice":false,"zero":false},
"axis":{"orient":"left","title":null,"values":[146,147,148,149,150,151,152,153,155],"format":".3f","domain":false,"ticks":false,"grid":false,"labelPadding":11,"labelFont":"DejaVu Sans","labelFontSize":15.3,"labelColor":"#50535e"}}}},
{"layer":[
{"data":{"name":"candles"},
"mark":{"type":"rule","color":"#000000","strokeWidth":1,"clip":true},
"encoding":{
"x":{"field":"i","type":"quantitative","scale":{"padding":0},"axis":{"orient":"bottom","title":null,"values":[41,65,89,113,137,173,197,220,245,269,310,335,359,383,407,431],"labelExpr":"{'41':'Sep','65':'5','89':'11','113':'17','137':'23','173':'Oct','197':'7','220':'12','245':'17','269':'23','310':'Nov','335':'7','359':'13','383':'19','407':'25','431':'Dec'}[datum.value]","labelOverlap":false,"domain":false,"ticks":false,"grid":true,"gridColor":"#f0f1f4","labelPadding":11,"labelFont":"DejaVu Sans","labelFontSize":15.5,"labelColor":"#50535e"}},
"y":{"field":"l","type":"quantitative","scale":{"domain":[1.12605,1.18426],"nice":false,"zero":false},
"axis":{"orient":"right","title":null,"values":[1.18,1.175,1.17,1.165,1.155,1.15,1.145,1.14,1.135,1.13],"format":".5f","domain":false,"ticks":false,"grid":true,"gridColor":"#f0f1f4","labelPadding":13,"labelFont":"DejaVu Sans","labelFontSize":15.3,"labelColor":"#50535e"}},
"y2":{"field":"h"}}},
{"data":{"name":"candles"},
"mark":{"type":"bar","size":2.6,"stroke":"#1c1c1c","strokeWidth":0.7,"clip":true},
"encoding":{
"x":{"field":"i","type":"quantitative","scale":{"padding":0}},
"y":{"field":"o","type":"quantitative"},
"y2":{"field":"c"},
"color":{"condition":{"test":"datum.c>=datum.o","value":"#2fd10a"},"value":"#c80a0a"}}},
{"data":{"name":"trend"},
"mark":{"type":"line","color":"#2f6bf5","strokeWidth":2.2,"clip":true},
"encoding":{"x":{"field":"i","type":"quantitative"},"y":{"field":"p","type":"quantitative"},"detail":{"field":"id"}}},
{"data":{"values":[{"p":1.15962}]},
"mark":{"type":"rule","color":"#2962ff","strokeWidth":1.5,"strokeDash":[1.5,1.5]},
"encoding":{"y":{"field":"p","type":"quantitative"}}},
{"data":{"values":[{"p":1.1598}]},
"mark":{"type":"rule","color":"#f23645","strokeWidth":1.7,"strokeDash":[1.5,1.5]},
"encoding":{"y":{"field":"p","type":"quantitative"}}},
{"data":{"values":[{"p":1.14069}]},
"mark":{"type":"rule","color":"#39ff14","strokeWidth":3},
"encoding":{"y":{"field":"p","type":"quantitative"}}},
{"data":{"name":"arrow"},
"mark":{"type":"area","color":"#f23645","stroke":"#f23645","strokeWidth":3,"strokeJoin":"round","clip":false},
"encoding":{"x":{"field":"i","type":"quantitative"},"y":{"field":"top","type":"quantitative"},"y2":{"field":"bot"},"detail":{"field":"part"}}},
{"data":{"values":[{"i0":-22.97,"i1":473.7,"p0":1.12605,"p1":1.12605},{"i0":449.9,"i1":449.9,"p0":1.18426,"p1":1.12323}]},
"mark":{"type":"rule","color":"#50535e","strokeWidth":1.2},
"encoding":{"x":{"field":"i0","type":"quantitative"},"x2":{"field":"i1"},"y":{"field":"p0","type":"quantitative"},"y2":{"field":"p1"}}},
{"data":{"values":[{"i0":-21.55,"i1":-1.37,"p0":1.1839,"p1":1.18156},{"i0":451.3,"i1":472.3,"p0":1.1839,"p1":1.18156}]},
"mark":{"type":"rect","fill":"#ffffff","stroke":"#f0f1f4","strokeWidth":1.2,"cornerRadius":5},
"encoding":{"x":{"field":"i0","type":"quantitative"},"x2":{"field":"i1"},"y":{"field":"p0","type":"quantitative"},"y2":{"field":"p1"}}},
{"data":{"name":"tags"},
"mark":{"type":"rect","cornerRadius":2},
"encoding":{"x":{"field":"i0","type":"quantitative"},"x2":{"field":"i1"},"y":{"field":"p0","type":"quantitative"},"y2":{"field":"p1"},
"color":{"field":"k","type":"nominal","legend":null,"scale":{"domain":["red","low","green","blue"],"range":["#e00000","#e3effd","#39ff14","#2f7cf6"]}}}},
{"data":{"values":[{"i":-11.4,"p":1.12456},{"i":461.9,"p":1.12456}]},
"mark":{"type":"point","filled":true,"size":415,"color":"#f1f2f5","opacity":1},
"encoding":{"x":{"field":"i","type":"quantitative"},"y":{"field":"p","type":"quantitative"}}},
{"data":{"name":"leftText"},
"mark":{"type":"text","font":"Roboto","fontSize":15,"align":"left","baseline":"middle"},
"encoding":{"x":{"field":"i","type":"quantitative"},"y":{"field":"p","type":"quantitative"},"text":{"field":"t"},
"color":{"field":"k","type":"nominal","legend":null,"scale":{"domain":["dark","grey","down","up"],"range":["#131722","#6a6d78","#7f1d1d","#2f7cf6"]}}}},
{"data":{"name":"midText"},
"mark":{"type":"text","font":"DejaVu Sans","fontSize":15.5,"align":"center","baseline":"middle"},
"encoding":{"x":{"field":"i","type":"quantitative"},"y":{"field":"p","type":"quantitative"},"text":{"field":"t"},
"color":{"field":"k","type":"nominal","legend":null,"scale":{"domain":["dark","white","pink"],"range":["#131722","#ffffff","#f7c4c4"]}}}},
{"data":{"values":[{"i":-15.6,"p":1.18277,"t":"JPY"},{"i":457.3,"p":1.18277,"t":"USD"}]},
"mark":{"type":"text","font":"DejaVu Sans","fontSize":13.5,"color":"#131722","align":"center","baseline":"middle"},
"encoding":{"x":{"field":"i","type":"quantitative"},"y":{"field":"p","type":"quantitative"},"text":{"field":"t"}}},
{"data":{"values":[{"i":-11.4,"p":1.12456,"t":"Z"},{"i":461.9,"p":1.12456,"t":"A"}]},
"mark":{"type":"text","font":"DejaVu Sans","fontSize":11,"color":"#6a6d78","align":"center","baseline":"middle"},
"encoding":{"x":{"field":"i","type":"quantitative"},"y":{"field":"p","type":"quantitative"},"text":{"field":"t"}}},
{"data":{"values":[{"i0":-22.33,"i1":-17.67,"p0":1.12129,"p1":1.12087},{"i0":-20,"i1":-17.67,"p0":1.12129,"p1":1.11994}]},
"mark":{"type":"rect","fill":"#131722"},
"encoding":{"x":{"field":"i0","type":"quantitative"},"x2":{"field":"i1"},"y":{"field":"p0","type":"quantitative"},"y2":{"field":"p1"}}},
{"data":{"values":[{"i":-16.38,"p":1.12108}]},
"mark":{"type":"point","filled":true,"size":40,"color":"#131722","opacity":1},
"encoding":{"x":{"field":"i","type":"quantitative"},"y":{"field":"p","type":"quantitative"}}},
{"data":{"values":[{"i0":-13.5,"i1":-16.1,"p0":1.12129,"p1":1.11994}]},
"mark":{"type":"rule","color":"#131722","strokeWidth":8},
"encoding":{"x":{"field":"i0","type":"quantitative"},"x2":{"field":"i1"},"y":{"field":"p0","type":"quantitative"},"y2":{"field":"p1"}}},
{"data":{"values":[{"i":-10.17,"p":1.12058,"t":"TradingView"}]},
"mark":{"type":"text","font":"Inter","fontWeight":700,"fontSize":24.5,"color":"#131722","align":"left","baseline":"middle"},
"encoding":{"x":{"field":"i","type":"quantitative"},"y":{"field":"p","type":"quantitative"},"text":{"field":"t"}}}
],
"resolve":{"scale":{"color":"independent","size":"independent"}}}
],
"resolve":{"scale":{"y":"independent"},"axis":{"y":"independent"}}
}
